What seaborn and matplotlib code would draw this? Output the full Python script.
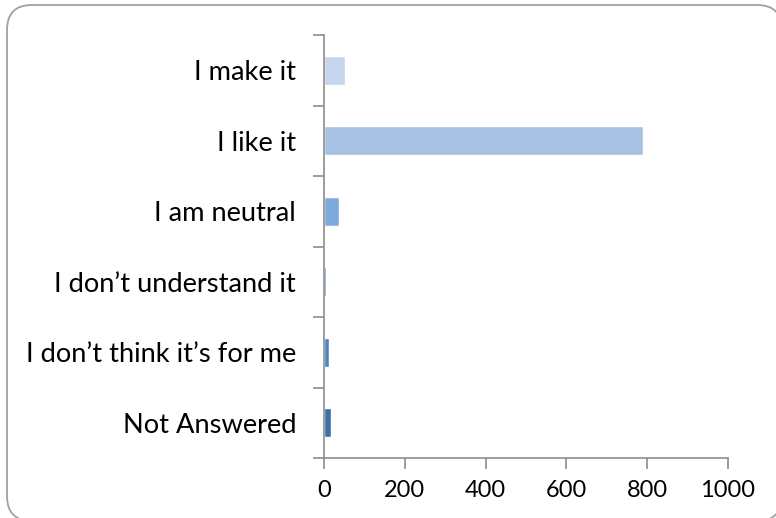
import matplotlib
matplotlib.use('Agg')
import matplotlib.pyplot as plt
import seaborn as sns
import pandas as pd
from matplotlib.patches import FancyBboxPatch

categories = ['I make it', 'I like it', 'I am neutral', 'I don\u2019t understand it',
              'I don\u2019t think it\u2019s for me', 'Not Answered']
values = [53, 790, 36, 4, 13, 17]
colors = ['#C6D6EC', '#A7C1E3', '#7DAADA', '#5B8FC8', '#4B84C0', '#3E6FA5']
x_ticks = [0, 200, 400, 600, 800, 1000]

df = pd.DataFrame({'category': categories, 'value': values})

sns.set_style('white')
plt.rcParams['font.family'] = ['Lato', 'DejaVu Sans']

fig = plt.figure(figsize=(7.76, 5.18), dpi=100)

# rounded chart-area border, partly running off the right and bottom edges
border = FancyBboxPatch((0.07, -0.03), 7.75, 5.16,
                        boxstyle='round,pad=0,rounding_size=0.25',
                        transform=fig.dpi_scale_trans, facecolor='white',
                        edgecolor='#A0A0A0', linewidth=1.3, zorder=-5)
fig.patches.append(border)

ax = fig.add_axes([324 / 776, 1 - 458 / 518, 404 / 776, 423 / 518])
ax.patch.set_alpha(0)

sns.barplot(data=df, x='value', y='category', hue='category', palette=colors,
            orient='h', width=0.41, legend=False, ax=ax, saturation=1)

axis_col = '#8C8C8C'
ax.set_xlim(0, 1000)
ax.set_ylim(len(categories) - 0.5, -0.5)
ax.set_xticks(x_ticks)
ax.set_xticklabels([str(t) for t in x_ticks], fontsize=17, color='black')
ax.set_yticks([i - 0.5 for i in range(len(categories) + 1)])
ax.set_yticklabels([])
ax.set_yticks(range(len(categories)), minor=True)
ax.set_yticklabels(categories, minor=True, fontsize=19.6, color='black')
ax.tick_params(axis='y', which='minor', length=0, pad=20)
ax.tick_params(axis='y', which='major', length=8, width=1.2, color=axis_col, direction='out', left=True)
ax.tick_params(axis='x', length=8, width=1.2, color=axis_col, direction='out', bottom=True, pad=8)
ax.set_xlabel('')
ax.set_ylabel('')
for side in ['top', 'right']:
    ax.spines[side].set_visible(False)
for side in ['left', 'bottom']:
    ax.spines[side].set_color(axis_col)
    ax.spines[side].set_linewidth(1.2)

plt.savefig('out.png', dpi=100)
plt.close()
